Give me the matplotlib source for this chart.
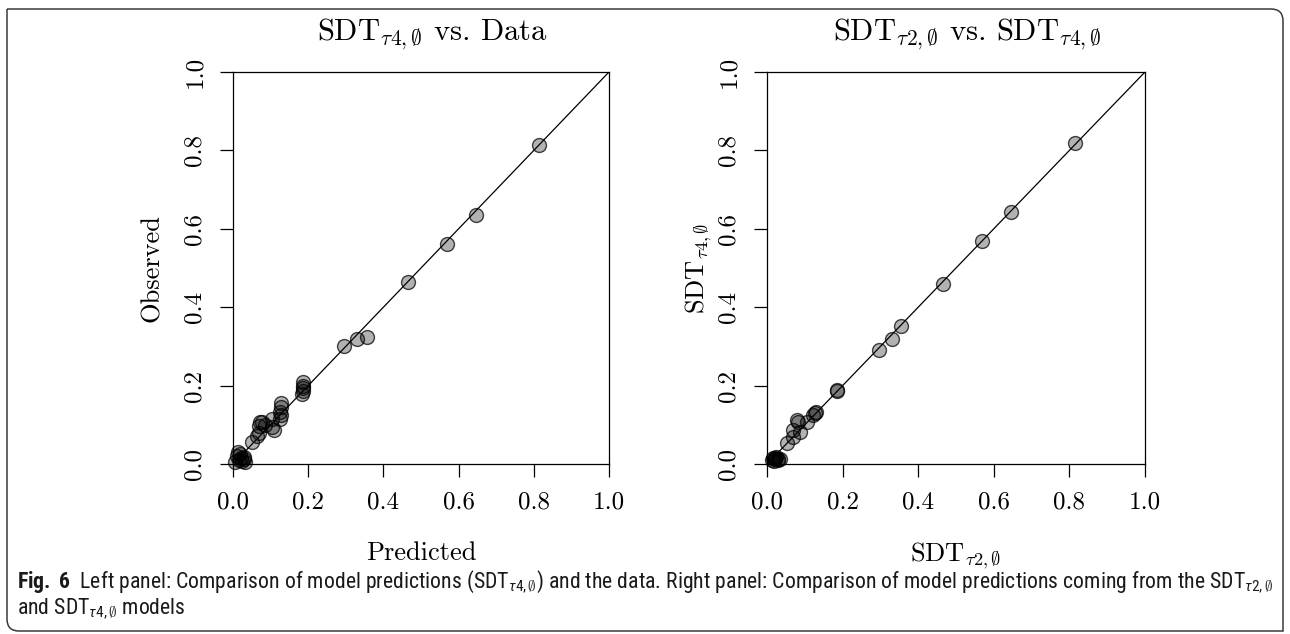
import matplotlib
matplotlib.use('Agg')
import matplotlib.pyplot as plt
from matplotlib.path import Path
from matplotlib.patches import PathPatch
from matplotlib import font_manager
import numpy as np

# Left panel: SDT tau4 predictions vs. observed data
pred_left = [0.815, 0.645, 0.569, 0.465, 0.295, 0.331, 0.356,
             0.185, 0.185, 0.186, 0.185, 0.184,
             0.128, 0.127, 0.126, 0.128, 0.125,
             0.105, 0.108, 0.103, 0.085, 0.078, 0.072, 0.070, 0.068, 0.065, 0.050,
             0.012, 0.010, 0.015, 0.020, 0.025, 0.030, 0.032, 0.005, 0.018, 0.028]
obs_left = [0.815, 0.635, 0.560, 0.464, 0.300, 0.319, 0.325,
            0.210, 0.200, 0.193, 0.185, 0.178,
            0.155, 0.145, 0.132, 0.125, 0.115,
            0.115, 0.087, 0.095, 0.100, 0.108, 0.108, 0.098, 0.080, 0.072, 0.055,
            0.030, 0.020, 0.010, 0.015, 0.008, 0.012, 0.005, 0.005, 0.025, 0.018]

# Right panel: SDT tau2 vs. SDT tau4 predictions
sdt2 = [0.815, 0.645, 0.570, 0.465, 0.355, 0.330, 0.295,
        0.186, 0.185, 0.130, 0.123, 0.127, 0.107,
        0.083, 0.079, 0.087, 0.070, 0.068, 0.052,
        0.016, 0.020, 0.025, 0.030, 0.035, 0.012, 0.022, 0.028, 0.018]
sdt4 = [0.819, 0.643, 0.568, 0.460, 0.352, 0.320, 0.290,
        0.186, 0.188, 0.132, 0.125, 0.130, 0.108,
        0.108, 0.112, 0.082, 0.087, 0.070, 0.054,
        0.015, 0.012, 0.018, 0.010, 0.014, 0.010, 0.016, 0.013, 0.008]

ticks = [0.0, 0.2, 0.4, 0.6, 0.8, 1.0]
tick_labels = ['0.0', '0.2', '0.4', '0.6', '0.8', '1.0']

cap_font = 'DejaVu Sans'
for f in ['Liberation Sans Narrow', 'Roboto Condensed', 'Open Sans Condensed']:
    try:
        font_manager.findfont(f, fallback_to_default=False)
        cap_font = f
        break
    except Exception:
        pass

plt.rcParams['font.family'] = 'cmr10'
plt.rcParams['mathtext.fontset'] = 'cm'
plt.rcParams['axes.formatter.use_mathtext'] = True
plt.rcParams['mathtext.rm'] = cap_font
plt.rcParams['mathtext.it'] = cap_font + ':italic'
plt.rcParams['mathtext.bf'] = cap_font + ':bold'

fig = plt.figure(figsize=(12.9, 6.34), dpi=100)

def panel(rect, x, y, title, xlab, ylab, ylab_x):
    ax = fig.add_axes(rect)
    ax.scatter(x, y, s=100, facecolor=(0, 0, 0, 0.3), edgecolor=(0, 0, 0, 0.72),
               linewidth=1.0, zorder=2, clip_on=False)
    ax.plot([0, 1], [0, 1], color='black', lw=0.9, zorder=3)
    ax.set_xlim(0, 1)
    ax.set_ylim(0, 1)
    ax.set_xticks(ticks)
    ax.set_xticklabels(tick_labels)
    ax.set_yticks(ticks)
    ax.set_yticklabels(tick_labels, rotation=90, va='center')
    ax.tick_params(direction='out', length=9.5, width=0.9, labelsize=18, pad=10)
    for s in ax.spines.values():
        s.set_linewidth(0.9)
    ax.set_title(title, fontsize=22, pad=23)
    ax.title.set_x(0.53)
    ax.set_xlabel(xlab, fontsize=19)
    ax.xaxis.set_label_coords(0.5, -0.196)
    ax.set_ylabel(ylab, fontsize=19)
    ax.yaxis.set_label_coords(ylab_x, 0.5)
    return ax

panel([233/1290, 170/634, 376/1290, 392/634], pred_left, obs_left,
      r'$\mathrm{SDT}_{\tau 4,\emptyset}$ vs. Data', 'Predicted', 'Observed', -0.183)
panel([767/1290, 170/634, 378/1290, 392/634], sdt2, sdt4,
      r'$\mathrm{SDT}_{\tau 2,\emptyset}$ vs. $\mathrm{SDT}_{\tau 4,\emptyset}$',
      r'$\mathrm{SDT}_{\tau 2,\emptyset}$', r'$\mathrm{SDT}_{\tau 4,\emptyset}$', -0.14)

# frame round the figure (rounded top-right and bottom-left corners)
W, H = 1290, 634
x0, x1, y0, y1, r = 7 / W, 1283 / W, 1 - 631 / H, 1 - 9 / H, 12
rx, ry = r / W, r / H
verts = [(x0, y1), (x1 - rx, y1), (x1, y1), (x1, y1 - ry), (x1, y0),
         (x0 + rx, y0), (x0, y0), (x0, y0 + ry), (x0, y1)]
codes = [Path.MOVETO, Path.LINETO, Path.CURVE3, Path.CURVE3, Path.LINETO,
         Path.LINETO, Path.CURVE3, Path.CURVE3, Path.LINETO]
fig.patches.append(PathPatch(Path(verts, codes), transform=fig.transFigure,
                             fill=False, edgecolor='#3a3a3a', lw=1.1))

cap1 = (r'$\mathbf{Fig.\ 6}$  Left panel: Comparison of model predictions '
        r'(SDT$_{\tau 4,\emptyset}$) and the data. Right panel: Comparison of model '
        r'predictions coming from the SDT$_{\tau 2,\emptyset}$')
cap2 = r'and SDT$_{\tau 4,\emptyset}$ models'
t1 = fig.text(17 / W, 1 - 582 / H, cap1, family=cap_font, math_fontfamily='custom',
              fontsize=14.5, va='center', color='#1a1a1a')
t2 = fig.text(17 / W, 1 - 609 / H, cap2, family=cap_font, math_fontfamily='custom',
              fontsize=14.5, va='center', color='#1a1a1a')
# size the caption so the first line spans the same width as in the figure
w = t1.get_window_extent(renderer=fig.canvas.get_renderer()).width
fs = 14.5 * 1254 / w
t1.set_fontsize(fs)
t2.set_fontsize(fs)

fig.savefig('out.png', dpi=100)
